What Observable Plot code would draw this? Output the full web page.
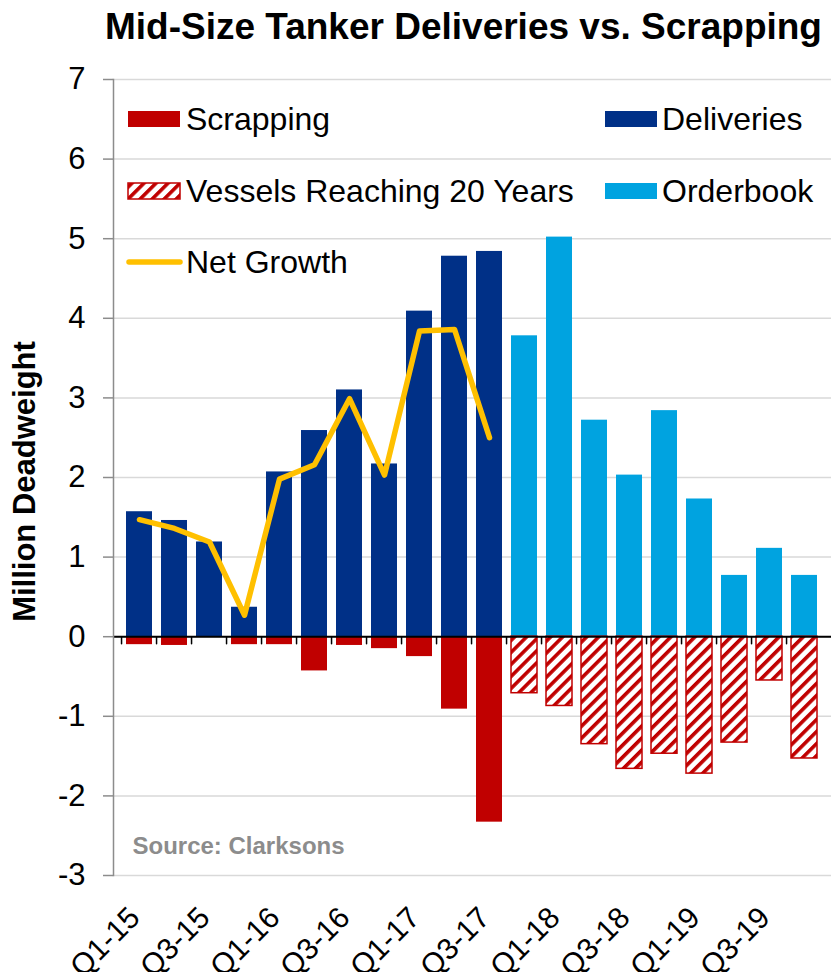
<!DOCTYPE html>
<html>
<head>
<meta charset="utf-8">
<script src="https://cdn.jsdelivr.net/npm/d3@7"></script>
<script src="https://cdn.jsdelivr.net/npm/@observablehq/plot@0.6"></script>
<style>
  html, body { margin: 0; padding: 0; background: #fff; }
  #wrap { position: relative; width: 831px; height: 972px; overflow: hidden; font-family: "Liberation Sans", Arial, sans-serif; }
  #title { position: absolute; left: 0; width: 831px; top: 9px; padding-left: 105px; box-sizing: border-box; font-weight: bold; font-size: 37px; line-height: 36px; color: #000; white-space: nowrap; }
  #chart { position: absolute; left: 0; top: 55px; }
  #legend { position: absolute; left: 0; top: 0; pointer-events: none; }
</style>
</head>
<body>
<div id="wrap">
  <div id="title">Mid-Size Tanker Deliveries vs. Scrapping</div>
  <div id="chart"></div>
  <svg id="legend" width="831" height="972"></svg>
</div>
<script>
// ---- data ----
const quarters = ["Q1-15","Q2-15","Q3-15","Q4-15","Q1-16","Q2-16","Q3-16","Q4-16","Q1-17","Q2-17","Q3-17",
                  "Q4-17","Q1-18","Q2-18","Q3-18","Q4-18","Q1-19","Q2-19","Q3-19","Q4-19"];
const tickLabels = ["Q1-15","Q3-15","Q1-16","Q3-16","Q1-17","Q3-17","Q1-18","Q3-18","Q1-19","Q3-19"];
const deliveries = [1.57, 1.46, 1.19, 0.37, 2.07, 2.59, 3.10, 2.17, 4.09, 4.78, 4.84];        // Q1-15..Q3-17
const scrapping  = [-0.10, -0.11, 0, -0.10, -0.10, -0.43, -0.11, -0.15, -0.25, -0.91, -2.33]; // Q1-15..Q3-17
const netGrowth  = [1.47, 1.36, 1.19, 0.27, 1.98, 2.16, 2.99, 2.03, 3.84, 3.86, 2.50];        // Q1-15..Q3-17
const orderbook  = [3.78, 5.02, 2.72, 2.03, 2.84, 1.73, 0.77, 1.11, 0.77];                     // Q4-17..Q4-19
const vessels20  = [-0.71, -0.87, -1.35, -1.66, -1.47, -1.72, -1.33, -0.55, -1.53];           // Q4-17..Q4-19
const yTicks = [-3, -2, -1, 0, 1, 2, 3, 4, 5, 6, 7];
const yLabel = "Million Deadweight";
const sourceText = "Source: Clarksons";
const legendItems = [
  {label: "Scrapping", kind: "bar", color: "#C00000"},
  {label: "Vessels Reaching 20 Years", kind: "hatch", color: "#C00000"},
  {label: "Net Growth", kind: "line", color: "#FFC000"},
  {label: "Deliveries", kind: "bar", color: "#003087"},
  {label: "Orderbook", kind: "bar", color: "#00A3E0"}
];

// ---- tables ----
const past = quarters.slice(0, deliveries.length);
const future = quarters.slice(deliveries.length);
const delivT = past.map((q, i) => ({q, v: deliveries[i]}));
const scrapT = past.map((q, i) => ({q, v: scrapping[i]}));
const netT = past.map((q, i) => ({q, v: netGrowth[i]}));
const orderT = future.map((q, i) => ({q, v: orderbook[i]}));
const v20T = future.map((q, i) => ({q, v: vessels20[i]}));

const W = 831, H = 917, mL = 113, mR = 0, mT = 24, mB = 97;
const padIn = 0.25, padOut = 0.125;
const step = (W - mL - mR) / (quarters.length - padIn + 2 * padOut);
const font = '"Liberation Sans", Arial, sans-serif';

const downTick = {draw(ctx, l) { ctx.moveTo(0, 0); ctx.lineTo(0, l); }};

const chart = Plot.plot({
  width: W, height: H,
  marginLeft: mL, marginRight: mR, marginTop: mT, marginBottom: mB,
  style: {fontFamily: font, color: "#000", background: "#fff"},
  x: {domain: quarters, type: "band", paddingInner: padIn, paddingOuter: padOut, axis: null},
  y: {domain: [-3, 7], ticks: yTicks, label: null},
  marks: [
    Plot.gridY(yTicks, {stroke: "#d9d9d9", strokeOpacity: 1, strokeWidth: 1.5}),
    Plot.axisY(yTicks, {tickSize: 10, tickPadding: 18, stroke: "#8c8c8c", strokeWidth: 1.5, fontSize: 31, label: null, tickFormat: d => String(d).replace("−", "-")}),
    Plot.barY(delivT, {x: "q", y: "v", fill: "#003087"}),
    Plot.barY(orderT, {x: "q", y: "v", fill: "#00A3E0"}),
    Plot.barY(scrapT, {x: "q", y: "v", fill: "#C00000"}),
    Plot.barY(v20T, {x: "q", y: "v", fill: "url(#hatch20)", stroke: "#C00000", strokeWidth: 1.5}),
    Plot.ruleY([0], {stroke: "#000", strokeWidth: 2}),
    Plot.vector(quarters, {x: d => d, y: 0, length: 7, shape: downTick, anchor: "start", dx: -step / 2, stroke: "#000", strokeWidth: 1.5}),
    Plot.frame({anchor: "left", stroke: "#8c8c8c", strokeWidth: 1.5}),
    Plot.line(netT, {x: "q", y: "v", stroke: "#FFC000", strokeWidth: 5.5, strokeLinejoin: "round", strokeLinecap: "round"}),
    Plot.text(tickLabels, {x: d => d, frameAnchor: "bottom", rotate: -45, textAnchor: "end", lineAnchor: "bottom", dx: 2, dy: 44, fontSize: 30, fill: "#000"}),
    Plot.text([yLabel], {frameAnchor: "left", rotate: -90, textAnchor: "middle", dx: -88, dy: 4, fontSize: 31, fontWeight: "bold", fill: "#000", lineAnchor: "middle"}),
    Plot.text([sourceText], {frameAnchor: "bottom-left", textAnchor: "start", lineAnchor: "bottom", dx: 19, dy: -22, fontSize: 24, fontWeight: "bold", fill: "#8c8c8c"})
  ]
});

// hatch pattern
const ns = "http://www.w3.org/2000/svg";
function addHatch(svg, id) {
  const defs = document.createElementNS(ns, "defs");
  defs.innerHTML = `<pattern id="${id}" patternUnits="userSpaceOnUse" width="8.5" height="8.5" patternTransform="rotate(45)">
      <rect width="8.5" height="8.5" fill="#fff"/>
      <rect width="3.6" height="8.5" fill="#C00000"/>
    </pattern>`;
  svg.insertBefore(defs, svg.firstChild);
}
addHatch(chart, "hatch20");
document.getElementById("chart").appendChild(chart);

// legend (inside plot area)
const leg = d3.select("#legend");
addHatch(leg.node(), "hatchLeg");
const rows = [130, 202, 273];
const cols = [{sx: 128, tx: 186}, {sx: 605, tx: 662}];
legendItems.forEach((it, i) => {
  const col = i < 3 ? cols[0] : cols[1];
  const base = rows[i < 3 ? i : i - 3];
  const cy = base - 11;
  if (it.kind === "line") {
    leg.append("line").attr("x1", col.sx + 1).attr("x2", col.sx + 52).attr("y1", cy).attr("y2", cy)
      .attr("stroke", it.color).attr("stroke-width", 5.5).attr("stroke-linecap", "round");
  } else if (it.kind === "hatch") {
    leg.append("rect").attr("x", col.sx).attr("y", cy - 8).attr("width", 52).attr("height", 16)
      .attr("fill", "url(#hatchLeg)").attr("stroke", it.color).attr("stroke-width", 1.5);
  } else {
    leg.append("rect").attr("x", col.sx).attr("y", cy - 8).attr("width", 52).attr("height", 16).attr("fill", it.color);
  }
  leg.append("text").attr("x", col.tx).attr("y", base).attr("font-size", 32).attr("font-family", font)
    .attr("fill", "#000").text(it.label);
});
</script>
</body>
</html>
